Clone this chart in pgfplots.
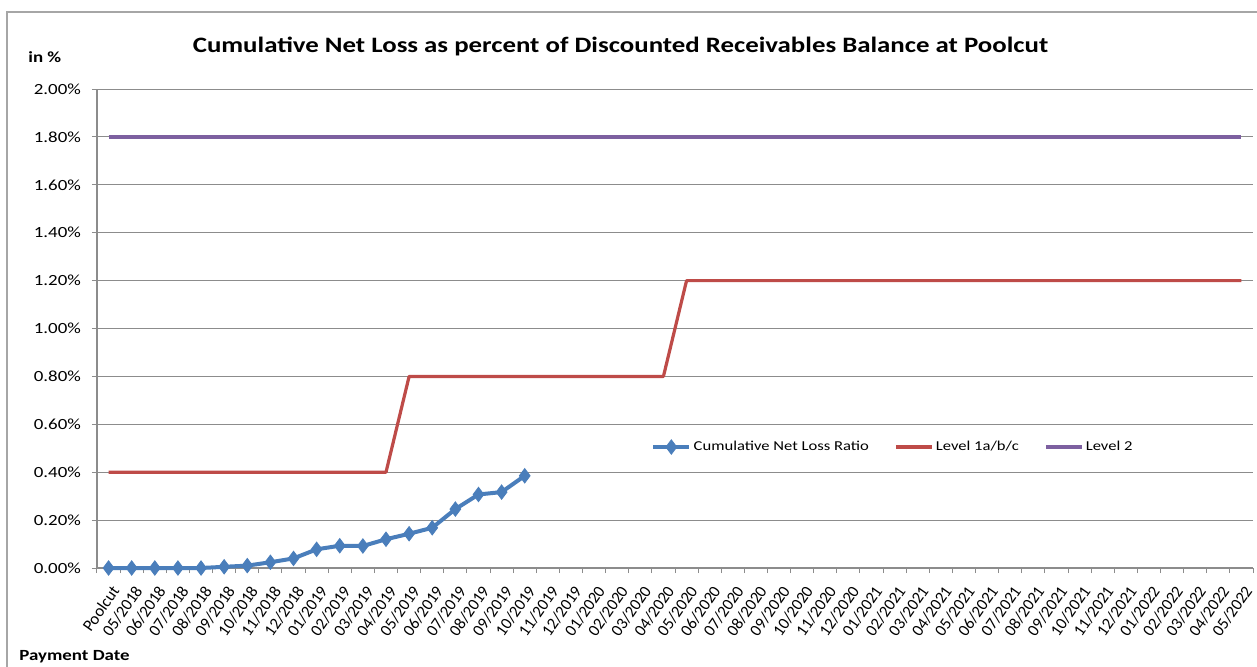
\documentclass[border=0pt]{standalone}
\usepackage{fontspec}
\setmainfont{Carlito}
\newfontfamily\wide{Carlito}[FakeStretch=1.22]
\usepackage{pgfplots}
\pgfplotsset{compat=1.18}
\definecolor{cnl}{HTML}{4A7EBB}
\definecolor{lvla}{HTML}{BE4B48}
\definecolor{lvlb}{HTML}{7D60A0}
\definecolor{gridc}{HTML}{8C8C8C}
\definecolor{framec}{HTML}{A6A6A6}
\begin{document}
\begin{tikzpicture}
\begin{axis}[
  at={(0,0)}, anchor=south west,
  scale only axis, width=578pt, height=239.5pt,
  xmin=-0.5, xmax=49.5, ymin=0, ymax=2,
  clip=false,
  axis x line*=bottom, axis y line*=left,
  axis line style={-, draw=gridc, line width=0.6pt},
  ymajorgrids, major grid style={gridc, line width=0.5pt},
  tick style={gridc, line width=0.5pt},
  tick align=outside, major tick length=2.5pt,
  ytick={0,0.2,...,2.01},
  yticklabels={0.00\%,0.20\%,0.40\%,0.60\%,0.80\%,1.00\%,1.20\%,1.40\%,1.60\%,1.80\%,2.00\%},
  yticklabel style={font=\wide\fontsize{7.75}{9}\selectfont, anchor=east, xshift=-2pt},
  xtick={-0.5,0.5,...,49.6},
  xticklabels={},
  extra x ticks={0,1,...,49},
  extra x tick labels={Poolcut,05/2018,06/2018,07/2018,08/2018,09/2018,10/2018,11/2018,12/2018,01/2019,02/2019,03/2019,04/2019,05/2019,06/2019,07/2019,08/2019,09/2019,10/2019,11/2019,12/2019,01/2020,02/2020,03/2020,04/2020,05/2020,06/2020,07/2020,08/2020,09/2020,10/2020,11/2020,12/2020,01/2021,02/2021,03/2021,04/2021,05/2021,06/2021,07/2021,08/2021,09/2021,10/2021,11/2021,12/2021,01/2022,02/2022,03/2022,04/2022,05/2022},
  extra x tick style={major tick length=0pt},
  xticklabel style={font=\fontsize{8.3}{9}\selectfont, xshift=1pt, yshift=-8pt, rotate=55, anchor=north east, inner sep=0pt},
  legend columns=3,
  legend style={at={(axis description cs:0.474,0.2526)}, anchor=west, draw=none, fill=none,
    font=\wide\fontsize{6.8}{8}\selectfont, nodes={inner sep=1.2pt},
    /tikz/every even column/.append style={column sep=11.5pt}},
  legend image code/.code={\draw[mark repeat=2,mark phase=2,#1] plot coordinates {(0pt,0pt) (9pt,0pt) (18pt,0pt)};},
]
\addplot[cnl, line width=2pt, mark=diamond*, mark size=3.6pt, mark options={fill=cnl, draw=cnl, line width=0.4pt}]
  coordinates {(0,0) (1,0) (2,0) (3,0) (4,0) (5,0.005) (6,0.01) (7,0.024) (8,0.04) (9,0.078) (10,0.093) (11,0.092) (12,0.12) (13,0.143) (14,0.168) (15,0.246) (16,0.307) (17,0.317) (18,0.385)};
\addlegendentry{Cumulative Net Loss Ratio}
\addplot[lvla, line width=1.6pt, line join=round]
  coordinates {(0,0.4) (12,0.4) (13,0.8) (24,0.8) (25,1.2) (49,1.2)};
\addlegendentry{Level 1a/b/c}
\addplot[lvlb, line width=1.6pt]
  coordinates {(0,1.8) (49,1.8)};
\addlegendentry{Level 2}
\end{axis}
\begin{scope}[x=0.5pt, y=-0.5pt, shift={(-97,-568)}]
  \draw[framec, line width=0.9pt] (7,670) -- (7,12) -- (1262,12);
  \node[font=\wide\bfseries\fontsize{11}{13}\selectfont] at (620.5,46.5) {Cumulative Net Loss as percent of Discounted Receivables Balance at Poolcut};
  \node[font=\wide\bfseries\fontsize{7.75}{9}\selectfont, anchor=west, inner sep=0pt] at (28,57) {in \%};
  \node[font=\wide\bfseries\fontsize{7.75}{9}\selectfont, anchor=west, inner sep=0pt] at (19,657) {Payment Date};
  \pgfresetboundingbox
  \path[use as bounding box] (0,0) rectangle (1257,666);
\end{scope}
\end{tikzpicture}
\end{document}
